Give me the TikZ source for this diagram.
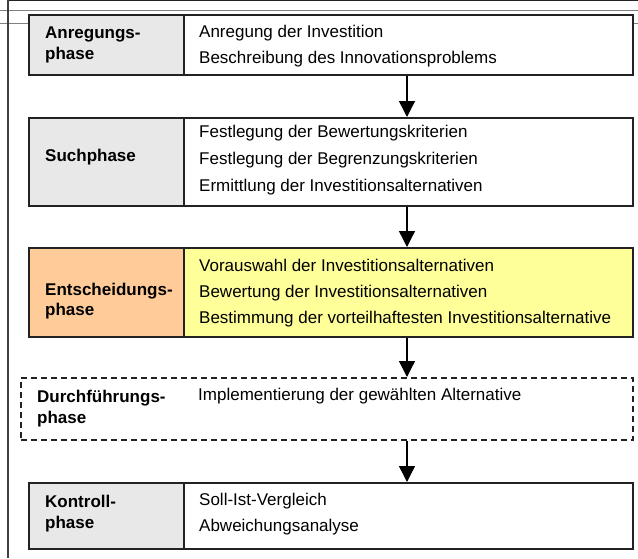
\documentclass[tikz,border=0pt]{standalone}
\usepackage{fontspec}
\setmainfont{Liberation Sans}
\usetikzlibrary{arrows.meta}
\definecolor{lgrey}{HTML}{E8E8E8}
\definecolor{peach}{HTML}{FFCC99}
\definecolor{lyellow}{HTML}{FFFF99}
\definecolor{frame}{HTML}{222222}
\begin{document}
\begin{tikzpicture}[x=1pt,y=-1pt,
  cell/.style={draw=frame,line width=1.6pt,anchor=north west,inner sep=0pt},
  lbl/.style={anchor=base west,inner sep=0pt,font=\fontsize{17}{20}\selectfont\bfseries},
  txt/.style={anchor=base west,inner sep=0pt,font=\fontsize{17}{20}\selectfont},
  flow/.style={line width=1.3pt,-{Triangle[length=16pt,width=16pt]}}]
\useasboundingbox (0,0) rectangle (638,558);
% page artefacts
\draw[line width=1.5pt,frame] (8,0.7) -- (638,0.7);
\draw[line width=0.6pt,gray] (0,10) -- (638,10);
\draw[line width=0.6pt,gray] (0,23) -- (28,23);
\draw[line width=0.6pt,gray] (632,23) -- (638,23);
\draw[line width=2pt,black!75] (8,0) -- (8,558);
% phase 1
\node[cell,fill=lgrey,minimum width=155,minimum height=60] (l1) at (28,14) {};
\node[cell,fill=white,minimum width=449,minimum height=60] (c1) at (183,14) {};
\node[lbl] (l1a) at (45,38) {Anregungs-};
\node[lbl] (l1b) at (45,59) {phase};
\node[txt] (c1a) at (199,37) {Anregung der Investition};
\node[txt] (c1b) at (199,63) {Beschreibung des Innovationsproblems};
% phase 2
\node[cell,fill=lgrey,minimum width=155,minimum height=88] (l2) at (28,117) {};
\node[cell,fill=white,minimum width=449,minimum height=88] (c2) at (183,117) {};
\node[lbl] (l2a) at (45,161) {Suchphase};
\node[txt] (c2a) at (199,137) {Festlegung der Bewertungskriterien};
\node[txt] (c2b) at (199,164) {Festlegung der Begrenzungskriterien};
\node[txt] (c2c) at (199,191) {Ermittlung der Investitionsalternativen};
% phase 3
\node[cell,fill=peach,minimum width=155,minimum height=89] (l3) at (28,247) {};
\node[cell,fill=lyellow,minimum width=449,minimum height=89] (c3) at (183,247) {};
\node[lbl] (l3a) at (45,295) {Entscheidungs-};
\node[lbl] (l3b) at (45,315) {phase};
\node[txt] (c3a) at (199,271) {Vorauswahl der Investitionsalternativen};
\node[txt] (c3b) at (199,297) {Bewertung der Investitionsalternativen};
\node[txt] (c3c) at (199,323) {Bestimmung der vorteilhaftesten Investitionsalternative};
% phase 4
\node[cell,fill=white,dashed,dash pattern=on 6pt off 4pt,minimum width=612,minimum height=62] (b4) at (20,377) {};
\node[lbl] (l4a) at (37,402) {Durchführungs-};
\node[lbl] (l4b) at (37,423) {phase};
\node[txt] (c4a) at (198,400) {Implementierung der gewählten Alternative};
% phase 5
\node[cell,fill=lgrey,minimum width=155,minimum height=66] (l5) at (28,482) {};
\node[cell,fill=white,minimum width=449,minimum height=66] (c5) at (183,482) {};
\node[lbl] (l5a) at (45,507) {Kontroll-};
\node[lbl] (l5b) at (45,528) {phase};
\node[txt] (c5a) at (199,505) {Soll-Ist-Vergleich};
\node[txt] (c5b) at (199,531) {Abweichungsanalyse};
% arrows
\coordinate (ax) at (407,0);
\draw[flow] (c1.south -| ax) -- (c2.north -| ax);
\draw[flow] (c2.south -| ax) -- (c3.north -| ax);
\draw[flow] (c3.south -| ax) -- (b4.north -| ax);
\draw[flow] (b4.south -| ax) -- (c5.north -| ax);
\end{tikzpicture}
\end{document}
